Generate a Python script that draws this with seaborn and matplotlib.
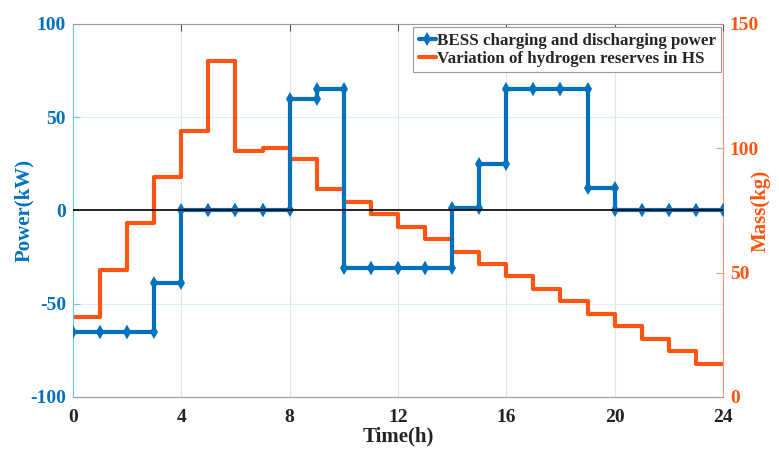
import matplotlib
matplotlib.use('Agg')
import matplotlib.pyplot as plt
import pandas as pd
import seaborn as sns

# hourly values (value held during hour h -> h+1)
hours = list(range(24))
bess_kw = [-65, -65, -65, -39, 0, 0, 0, 0, 60, 65, -31, -31, -31, -31,
           1.5, 25, 65, 65, 65, 12, 0, 0, 0, 0]
h2_kg = [32, 51, 70, 88.5, 107, 135, 99, 100, 95.5, 83.5, 78.5, 73.6,
         68.5, 63.5, 58.4, 53.6, 48.5, 43.4, 38.6, 33.5, 28.5, 23.4, 18.5, 13.4]

x_ticks = [0, 4, 8, 12, 16, 20, 24]
left_ticks = [-100, -50, 0, 50, 100]
right_ticks = [0, 50, 100, 150]

BLUE = '#0072BD'
ORANGE = '#FF5510'


def stair_frame(vals, name):
    # corner points of a stair line, so markers land on every corner
    xs, ys = [], []
    for h, v in zip(hours, vals):
        xs += [h, h + 1]
        ys += [v, v]
    return pd.DataFrame({'time': xs, name: ys})


bess_df = stair_frame(bess_kw, 'power')
h2_df = stair_frame(h2_kg, 'mass')

sns.set_style('white')
plt.rcParams['font.family'] = ['Liberation Serif', 'DejaVu Serif']
plt.rcParams['font.weight'] = 'bold'
plt.rcParams['axes.unicode_minus'] = False

fig = plt.figure(figsize=(7.79, 4.5), dpi=100)
ax = fig.add_axes([0.0937, 0.1178, 0.8344, 0.829])
ax2 = ax.twinx()

# grid lives on the lower (mass) axes so it stays under both lines
for t in x_ticks[1:-1]:
    ax2.axvline(t, color='#E3E3E3', linewidth=0.8, zorder=0)
for t in left_ticks[1:-1]:
    if t != 0:
        ax2.plot([0, 1], [t, t], transform=ax.get_yaxis_transform(),
                 color='#DCEEFA', linewidth=0.8, zorder=0.5)

sns.lineplot(data=h2_df, x='time', y='mass', ax=ax2, color=ORANGE,
             linewidth=3, estimator=None, sort=False,
             label='Variation of hydrogen reserves in HS', legend=False, zorder=2)

sns.lineplot(data=bess_df, x='time', y='power', ax=ax, color=BLUE,
             linewidth=3, marker='d', markersize=7, markeredgewidth=0,
             estimator=None, sort=False, label='BESS charging and discharging power',
             legend=False, zorder=5)
ax.axhline(0, color='black', linewidth=1.2, zorder=6)

# put the power axis above the mass axis
ax.set_zorder(ax2.get_zorder() + 1)
ax.patch.set_visible(False)
ax.grid(False)

ax.set_xlim(0, 24)
ax.set_ylim(-100, 100)
ax2.set_ylim(0, 150)
ax.set_xticks(x_ticks)
ax.set_yticks(left_ticks)
ax2.set_yticks(right_ticks)

ax.tick_params(axis='x', direction='in', top=True, labelsize=14, colors='#555555',
               labelcolor='#222222', length=5, pad=9)
ax.tick_params(axis='y', direction='in', labelsize=14, colors='#6CC3EA',
               labelcolor=BLUE, length=5, pad=5)
ax2.tick_params(axis='y', direction='in', labelsize=14, colors='#FF9A70',
                labelcolor=ORANGE, length=5, pad=5)

for s in ['top', 'bottom']:
    ax.spines[s].set_color('#999999')
ax.spines['left'].set_color('#6CC3EA')
ax.spines['right'].set_visible(False)
ax2.spines['right'].set_color('#FF9A70')
for s in ['top', 'bottom', 'left']:
    ax2.spines[s].set_visible(False)

ax.set_xlabel('Time(h)', fontsize=15, fontweight='bold', color='#222222', labelpad=0)
ax.set_ylabel('Power(kW)', fontsize=15, fontweight='bold', color=BLUE)
ax.yaxis.set_label_coords(-0.06, 0.5)
ax2.set_ylabel('Mass(kg)', fontsize=15, fontweight='bold', color=ORANGE)
ax2.yaxis.set_label_coords(1.043, 0.5)

h1, l1 = ax.get_legend_handles_labels()
h2, l2 = ax2.get_legend_handles_labels()
leg = ax.legend(h1 + h2, l1 + l2, loc='upper right', bbox_to_anchor=(1.0, 0.995),
                fontsize=12.2, frameon=True, fancybox=False, framealpha=1,
                edgecolor='#999999', handlelength=1.0, handletextpad=0.1,
                borderpad=0.3, labelspacing=0.15, borderaxespad=0.1)
leg.get_frame().set_linewidth(0.8)
for t in leg.get_texts():
    t.set_fontweight('bold')

fig.savefig('out.png', dpi=100)
